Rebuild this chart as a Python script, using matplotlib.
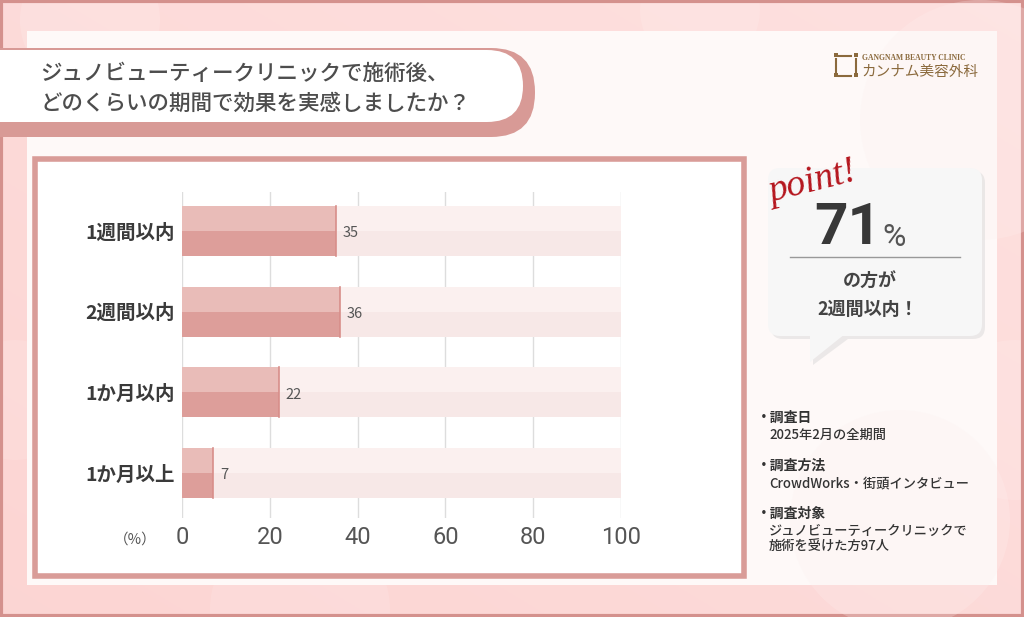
import matplotlib
matplotlib.use("Agg")
import matplotlib.pyplot as plt
from matplotlib.patches import FancyBboxPatch, Rectangle, Polygon, Circle
import numpy as np

plt.rcParams['font.family'] = ['Noto Sans CJK JP', 'DejaVu Sans']

# ---- data ----
categories = ["1週間以内", "2週間以内", "1か月以内", "1か月以上"]
values = [35, 36, 22, 7]
xticks = [0, 20, 40, 60, 80, 100]
title_lines = ["ジュノビューティークリニックで施術後、", "どのくらいの期間で効果を実感しましたか？"]
point_value = "71"
point_lines = ["の方が", "2週間以内！"]
notes = [("・調査日", ["2025年2月の全期間"]),
         ("・調査方法", ["CrowdWorks・街頭インタビュー"]),
         ("・調査対象", ["ジュノビューティークリニックで", "施術を受けた方97人"])]

W, H = 1024, 617
fig = plt.figure(figsize=(W / 100, H / 100), dpi=100)

bg = fig.add_axes([0, 0, 1, 1])
bg.set_xlim(0, W)
bg.set_ylim(H, 0)
bg.axis('off')

# pink frame with soft gradient
grad = np.linspace(0, 1, 256)
gx, gy = np.meshgrid(grad, grad)
c1 = np.array([0.988, 0.835, 0.827])
c2 = np.array([0.996, 0.880, 0.876])
mix = (0.5 * gx + 0.5 * (1 - gy))[..., None]
img = c1 * (1 - mix) + c2 * mix
bg.imshow(img, extent=[0, W, H, 0], aspect='auto', zorder=0)
# soft bokeh on frame
for (cx, cy, r, a) in [(90, 20, 70, 0.15), (300, 610, 90, 0.12), (1015, 420, 80, 0.12),
                       (700, 10, 60, 0.12), (15, 400, 60, 0.1)]:
    bg.add_patch(Circle((cx, cy), r, color='white', alpha=a, lw=0, zorder=1))
# outer border
bg.add_patch(Rectangle((1, 1), W - 2, H - 2, fill=False, ec='#d4918d', lw=3, zorder=2))

# inner panel
bg.add_patch(Rectangle((27, 31), 970, 554, fc='#fef9f8', ec='none', zorder=2))
for (cx, cy, r, a) in [(980, 120, 120, 0.25), (900, 520, 110, 0.25)]:
    bg.add_patch(Circle((cx, cy), r, color='#fdf0ef', alpha=a, lw=0, zorder=2))

# title banner
bg.add_patch(FancyBboxPatch((-60, 48), 595, 89, boxstyle="round,pad=0,rounding_size=44",
                            fc='#d89a96', ec='none', zorder=3))
bg.add_patch(FancyBboxPatch((-60, 50), 583, 72, boxstyle="round,pad=0,rounding_size=36",
                            fc='white', ec='none', zorder=4))
bg.text(40, 74, title_lines[0], fontsize=15.5, color='#4d4d4d', va='center', ha='left',
        fontweight='medium', zorder=5)
bg.text(40, 104, title_lines[1], fontsize=15.5, color='#4d4d4d', va='center', ha='left',
        fontweight='medium', zorder=5)

# logo
gold = '#8b6a3d'
for (dx, dy) in [(0, 0), (20, 0), (0, 20), (20, 20)]:
    bg.add_patch(Rectangle((835 + dx - 1, 54 + dy - 1), 4, 4, fc=gold, ec='none', zorder=5))
for (x0, y0, x1, y1) in [(839, 56, 851, 56), (839, 76, 851, 76), (836, 59, 836, 73), (856, 59, 856, 73)]:
    bg.plot([x0, x1], [y0, y1], color=gold, lw=1.5, zorder=5)
bg.text(862, 58, "GANGNAM BEAUTY CLINIC", fontsize=5.5, color=gold, family='Liberation Serif',
        fontweight='bold', va='center', ha='left', zorder=5)
bg.text(861, 72, "カンナム美容外科", fontsize=10.5, color=gold, va='center', ha='left', zorder=5)

# chart box
bg.add_patch(Rectangle((35, 159), 709, 417, fc='white', ec='#d99c98', lw=4, zorder=3))

# speech bubble
bg.add_patch(FancyBboxPatch((771, 171), 214, 168, boxstyle="round,pad=0,rounding_size=12",
                            fc='#d5d5d5', ec='none', alpha=0.45, zorder=3))
bg.add_patch(Polygon([(813, 339), (813, 365), (848, 339)], closed=True, fc='#d5d5d5', alpha=0.45,
                     ec='none', zorder=3))
bg.add_patch(FancyBboxPatch((768, 168), 214, 168, boxstyle="round,pad=0,rounding_size=12",
                            fc='#f7f7f7', ec='none', zorder=4))
bg.add_patch(Polygon([(810, 334), (810, 362), (845, 334)], closed=True, fc='#f7f7f7',
                     ec='none', zorder=4))
bg.text(812, 182, "point!", fontsize=27, color='#b5161e', family='Liberation Serif',
        style='italic', rotation=14, va='center', ha='center', zorder=6)
bg.text(881, 229, point_value, fontsize=42, color='#383838', fontweight='bold',
        va='center', ha='right', zorder=6, family='Roboto')
bg.text(882, 238, "%", fontsize=23, color='#555555', va='center', ha='left', zorder=6, family='Roboto')
bg.plot([790, 960], [257, 257], color='#999999', lw=1, zorder=6)
bg.text(870, 281, point_lines[0], fontsize=13, color='#444444', fontweight='bold',
        va='center', ha='center', zorder=6)
bg.text(868, 309, point_lines[1], fontsize=13, color='#444444', fontweight='bold',
        va='center', ha='center', zorder=6)

# notes
y = 418
for head, lines in notes:
    bg.text(757, y, head, fontsize=10, color='#333333', fontweight='bold', va='center',
            ha='left', zorder=6)
    y += 17
    for ln in lines:
        bg.text(769, y, ln, fontsize=9.5, color='#333333', fontweight='medium', va='center',
                ha='left', zorder=6)
        y += 16
    y += 15

# ---- bar chart ----
ax = fig.add_axes([182 / W, 1 - 518 / H, 439 / W, 326 / H])
ax.set_facecolor('none')
ax.set_zorder(5)
n = len(categories)
ypos = np.arange(n)
bh = 0.62
ax.set_xlim(0, 100)
ax.set_ylim(3 + 45 / 80.67, -39 / 80.67)
for xt in xticks:
    ax.axvline(xt, color='#dddddd', lw=1, zorder=1)
# background bars
ax.barh(ypos - bh / 4, [100] * n, height=bh / 2, color='#fbf0ef', zorder=2)
ax.barh(ypos + bh / 4, [100] * n, height=bh / 2, color='#f7e8e7', zorder=2)
# value bars
ax.barh(ypos - bh / 4, values, height=bh / 2, color='#e9bcb8', zorder=3)
ax.barh(ypos + bh / 4, values, height=bh / 2, color='#dd9e9a', zorder=3)
for i, v in enumerate(values):
    ax.plot([v, v], [i - bh / 2, i + bh / 2], color='#d88e8a', lw=1.2, zorder=4)
    ax.text(v + 1.6, i + 0.03, str(v), fontsize=10.5, color='#555555', va='center', ha='left', zorder=5)

ax.set_yticks(ypos)
ax.set_yticklabels(categories, fontsize=14, fontweight='bold', color='#3a3a3a')
ax.set_xticks(xticks)
ax.set_xticklabels([str(t) for t in xticks], fontsize=17, color='#555555', family='Roboto')
ax.tick_params(axis='both', length=0)
ax.tick_params(axis='y', pad=5)
ax.tick_params(axis='x', pad=6)
for s in ax.spines.values():
    s.set_visible(False)

bg.text(135, 540, "（%）", fontsize=10.5, color='#555555', va='center', ha='center', zorder=6)

fig.savefig("out.png", dpi=100)
